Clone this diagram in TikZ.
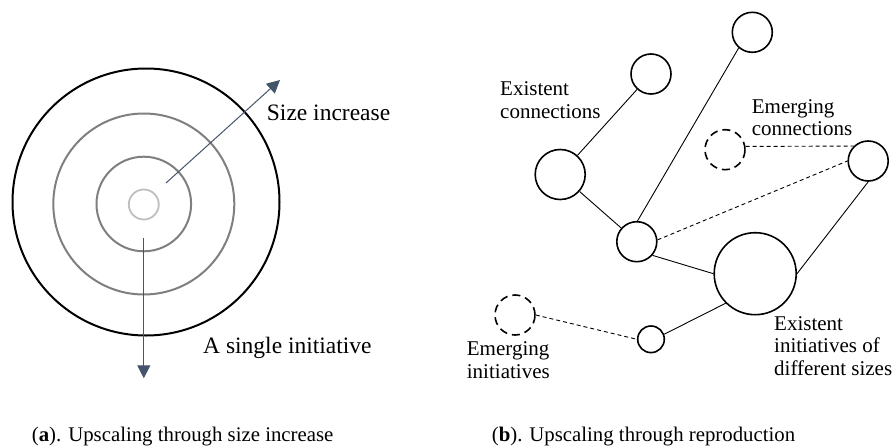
\documentclass[tikz,border=0pt]{standalone}
\usepackage{fontspec}
\setmainfont{Liberation Serif}
\usetikzlibrary{arrows.meta}
\definecolor{arrowblue}{HTML}{44546A}
\definecolor{ringgray}{HTML}{7F7F7F}
\definecolor{coregray}{HTML}{BFBFBF}
\begin{document}
\begin{tikzpicture}[x=1pt,y=-1pt,
  lbl/.style={anchor=base west,inner sep=0pt,align=left,font=\fontsize{#1}{22.5}\selectfont},
  lbl/.default=21,
  ring/.style={circle,draw,inner sep=0pt,minimum size=#1},
  init/.style={circle,draw=black,line width=1.6pt,inner sep=0pt,minimum size=#1},
  newinit/.style={circle,draw=black,line width=1.6pt,dash pattern=on 8pt off 5pt,inner sep=0pt,minimum size=#1},
  link/.style={draw=black,line width=0.9pt},
  newlink/.style={draw=black,line width=0.9pt,dash pattern=on 4pt off 3pt},
  growth/.style={draw=arrowblue,line width=1pt,-{Triangle[length=13pt,width=13pt]}}]
\useasboundingbox (0,0) rectangle (892,447);

% ---- (a) a single initiative growing in size ----
\node[ring=267pt,draw=black,line width=2pt] (r4) at (146,202) {};
\node[ring=181pt,draw=ringgray,line width=2pt] (r3) at (143.8,204) {};
\node[ring=94.6pt,draw=ringgray,line width=2pt] (r2) at (143.8,204) {};
\node[ring=30pt,draw=coregray,line width=1.8pt] (r1) at (143.8,204.5) {};

\coordinate (upfrom) at (166,183);
\coordinate (upto) at (280,80);
\coordinate (downfrom) at (143.8,237.7);
\coordinate (downto) at (143.8,378.3);
\draw[growth] (upfrom) -- (upto);
\draw[growth] (downfrom) -- (downto);

\node[lbl=23.5] (sizelbl) at (266.7,120) {Size increase};
\node[lbl=23.5] (singlelbl) at (203,353) {A single initiative};
\node[lbl=20.8] (capa) at (31.7,441.7) {(\textbf{a}). Upscaling through size increase};

% ---- (b) a network of initiatives reproducing ----
\node[init=40pt] (n1) at (752.3,32.3) {};
\node[init=40pt] (n2) at (651,74) {};
\node[init=50pt] (n3) at (560.2,174.5) {};
\node[newinit=40pt] (n4) at (725,149.7) {};
\node[init=40pt] (n5) at (868.2,161) {};
\node[init=40pt] (n6) at (636.8,241.7) {};
\node[init=82pt] (n7) at (755.2,273.7) {};
\node[newinit=40pt] (n8) at (515,315) {};
\node[init=26.6pt] (n9) at (651,339.3) {};

% existing connections
\draw[link] (n3) -- (n2);
\draw[link] (n6.88) -- (n1.229);
\draw[link] (n3) -- (n6);
\draw[link] (n6.-41) -- (n7.west);
\draw[link] (n7.east) -- (n5.south);
\draw[link] (n7.225) -- (n9.21);
% emerging connections
\draw[newlink] (n6.5) -- (n5.west);
\draw[newlink] (n4.9) -- (n5.134);
\draw[newlink] (n8.east) -- (n9.west);

% multi-line labels are placed by the baseline of their last line
\node[lbl] (exconn) at (500,118.3) {Existent\\connections};
\node[lbl] (emconn) at (751.7,135.5) {Emerging\\connections};
\node[lbl] (exinit) at (774,375) {Existent\\initiatives of\\different sizes};
\node[lbl] (eminit) at (466.7,378) {Emerging\\initiatives};
\node[lbl=20.8] (capb) at (491.7,441.7) {(\textbf{b}). Upscaling through reproduction};
\end{tikzpicture}
\end{document}
